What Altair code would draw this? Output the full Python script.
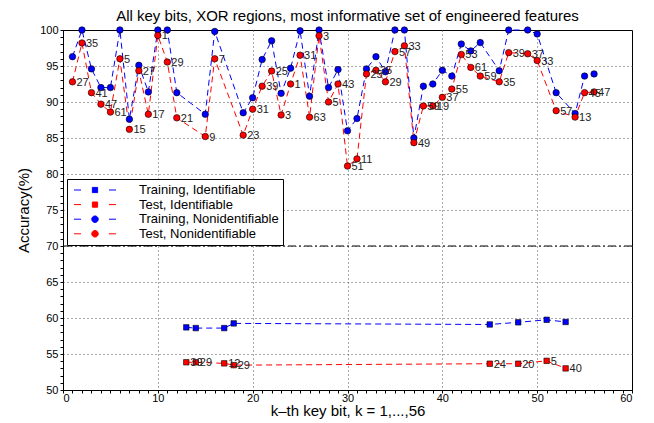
import altair as alt
import pandas as pd

# ---------------- data ----------------
bits_ni = [1, 2, 3, 4, 5, 6, 7, 8, 9, 10, 11, 12, 15, 16, 19, 20, 21, 22, 23, 24,
           25, 26, 27, 28, 29, 30, 31, 32, 33, 34, 35, 36, 37, 38, 39, 40, 41, 42,
           43, 44, 46, 47, 49, 50, 52, 54, 55, 56]
train_ni = [96.3, 100.0, 94.6, 92.0, 92.0, 100.0, 87.6, 95.1, 91.4, 100.0, 100.0, 91.3,
            88.3, 99.8, 88.5, 90.6, 95.9, 98.5, 91.2, 94.7, 99.9, 90.8, 100.0, 92.0,
            94.5, 86.0, 87.7, 94.6, 96.3, 94.2, 100.0, 100.0, 85.0, 92.2, 92.5, 94.4,
            93.6, 98.05, 97.1, 98.25, 94.35, 100.0, 100.0, 99.45, 91.3, 88.4, 93.6, 93.9]
test_ni = [92.8, 98.2, 91.3, 89.7, 88.6, 96.0, 86.2, 94.35, 88.3, 99.25, 95.55, 87.8,
           85.2, 96.0, 85.4, 89.0, 92.2, 94.3, 88.2, 92.5, 96.5, 87.9, 99.2, 90.0,
           92.5, 81.1, 82.1, 93.9, 94.4, 92.8, 97.0, 97.8, 84.35, 89.45, 89.45, 90.65,
           91.8, 96.6, 94.8, 93.6, 92.8, 96.85, 96.7, 95.75, 88.8, 87.9, 91.3, 91.4]
labels_ni = ["27", "35", "41", "47", "61", "5", "15", "27", "17", "1", "29", "21",
             "9", "7", "23", "31", "39", "25", "3", "1", "31", "63", "3", "5",
             "43", "51", "11", "25", "35", "29", "57", "33", "49", "59", "19", "37",
             "55", "53", "61", "59", "35", "39", "37", "33", "57", "13", "45", "47"]

bits_id = [13, 14, 17, 18, 45, 48, 51, 53]
train_id = [58.7, 58.6, 58.6, 59.25, 59.1, 59.4, 59.75, 59.45]
test_id = [53.85, 53.85, 53.7, 53.45, 53.65, 53.65, 54.05, 53.0]
labels_id = ["39", "29", "12", "29", "24", "20", "5", "40"]

threshold = [70]

series_names = ["Training, Identifiable", "Test, Identifiable",
                "Training, Nonidentifiable", "Test, Nonidentifiable"]
series_colors = ["#0000ff", "#ff0000", "#0000ff", "#ff0000"]

# ---------------- table ----------------
rows = []
for b, v in zip(bits_id, train_id):
    rows.append(dict(bit=b, acc=v, series=series_names[0], kind="square", label=""))
for b, v, l in zip(bits_id, test_id, labels_id):
    rows.append(dict(bit=b, acc=v, series=series_names[1], kind="square", label=l))
for b, v in zip(bits_ni, train_ni):
    rows.append(dict(bit=b, acc=v, series=series_names[2], kind="circle", label=""))
for b, v, l in zip(bits_ni, test_ni, labels_ni):
    rows.append(dict(bit=b, acc=v, series=series_names[3], kind="circle", label=l))
df = pd.DataFrame(rows)

FONT = "Liberation Sans"

x_axis = alt.Axis(
    values=list(range(0, 61)),
    labelExpr="datum.value % 10 == 0 ? datum.label : ''",
    labelOverlap=False,
    tickSize=3,
    tickColor="black",
    domainColor="black",
    grid=True,
    gridDash=[1, 3],
    gridColor="#555555",
    gridOpacity={"condition": {"test": "datum.value % 10 == 0 && datum.value > 0 && datum.value < 60",
                               "value": 1}, "value": 0},
    labelFontSize=11, labelFont=FONT, labelColor="black", labelPadding=-1,
    titleFontSize=15, titleFont=FONT, titleFontWeight="normal", titleColor="black",
    titlePadding=0,
)
y_axis = alt.Axis(
    values=list(range(50, 101)),
    labelExpr="datum.value % 5 == 0 ? datum.label : ''",
    labelOverlap=False,
    tickSize=3,
    tickColor="black",
    domainColor="black",
    grid=True,
    gridDash=[1, 3],
    gridColor="#555555",
    gridOpacity={"condition": {"test": "datum.value % 5 == 0 && datum.value > 50 && datum.value < 100",
                               "value": 1}, "value": 0},
    labelFontSize=11, labelFont=FONT, labelColor="black", labelPadding=2,
    titleFontSize=15, titleFont=FONT, titleFontWeight="normal", titleColor="black",
    titlePadding=8,
)

X = alt.X("bit:Q", scale=alt.Scale(domain=[0, 60], nice=False),
          axis=x_axis, title="k\u2013th key bit, k = 1,...,56")
Y = alt.Y("acc:Q", scale=alt.Scale(domain=[50, 100], nice=False, zero=False),
          axis=y_axis, title="Accuracy(%)")

color_scale = alt.Scale(domain=series_names, range=series_colors)

base = alt.Chart(df)

lines = base.mark_line(strokeDash=[6, 4], strokeWidth=1).encode(
    x=X, y=Y,
    color=alt.Color("series:N", scale=color_scale, legend=None),
    order="bit:Q",
)

points = base.mark_point(filled=True, stroke="black", strokeWidth=0.6, opacity=1).encode(
    x=X, y=Y,
    color=alt.Color("series:N", scale=color_scale, legend=None),
    shape=alt.Shape("kind:N", scale=alt.Scale(domain=["square", "circle"],
                                               range=["square", "circle"]), legend=None),
    size=alt.Size("kind:N", scale=alt.Scale(domain=["square", "circle"], range=[30, 42]),
                  legend=None),
)

texts = base.transform_filter("datum.label != ''").mark_text(
    align="left", baseline="middle", dx=4, dy=1, fontSize=11, font=FONT, color="#222222"
).encode(x=X, y=Y, text="label:N")

rule70 = alt.Chart(pd.DataFrame({"acc": threshold})).mark_rule(
    color="black", strokeWidth=1, strokeDash=[8, 3, 2, 3]
).encode(y=Y)

sq_path = "M-3.23,0H-2.15M2.15,0H3.23M-0.4,-0.4H0.4V0.4H-0.4Z"
ci_path = "M-3.23,0H-2.15M2.15,0H3.23M0.5,0A0.5,0.5,0,1,1,-0.5,0A0.5,0.5,0,1,1,0.5,0Z"

leg = alt.Legend(
    title=None, orient="none", legendX=4, legendY=149,
    symbolSize=169, symbolOffset=17, labelOffset=37,
    labelFontSize=13, labelFont=FONT, labelColor="black", labelLimit=400,
    strokeColor="black", fillColor="white", padding=4, rowPadding=0.6,
    symbolOpacity=1, symbolStrokeWidth=1,
)

legend_layer = base.mark_point(filled=True, opacity=0, size=1).encode(
    x=X, y=Y,
    color=alt.Color("series:N", scale=color_scale, legend=leg),
    stroke=alt.Stroke("series:N", scale=color_scale, legend=leg),
    shape=alt.Shape("series:N", scale=alt.Scale(domain=series_names,
                                                 range=[sq_path, sq_path, ci_path, ci_path]),
                    legend=leg),
)

chart = alt.layer(rule70, lines, points, texts, legend_layer).resolve_scale(
    color="independent", shape="independent", stroke="independent", size="independent"
).properties(
    width=569, height=360,
    autosize=alt.AutoSizeParams(type="none"),
    padding={"left": 55, "top": 22, "right": 14, "bottom": 30},
    title=alt.TitleParams(
        "All key bits, XOR regions, most informative set of engineered features",
        fontSize=15, font=FONT, fontWeight="normal", color="black",
        anchor="middle", offset=0,
    ),
).configure_view(stroke="black", strokeWidth=1)

chart.save("out.html", embed_options={"renderer": "svg", "actions": False})
